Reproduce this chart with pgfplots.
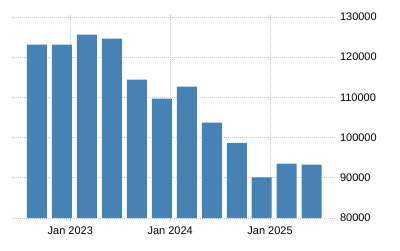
\documentclass[border=0pt]{standalone}
\usepackage{pgfplots}
\pgfplotsset{compat=1.18}
\usepackage{fontspec}
\setmainfont{Liberation Sans}
\definecolor{barblue}{HTML}{4682B4}
\definecolor{gridgray}{HTML}{C8C8C8}
\begin{document}
\begin{tikzpicture}[x=1pt,y=1pt]
\useasboundingbox (0,0) rectangle (400,250);
\begin{axis}[
  at={(12pt,32pt)}, anchor=south west,
  scale only axis, width=323pt, height=201pt,
  xmin=-7, xmax=31.8, ymin=80000, ymax=130000,
  enlargelimits=false,
  axis line style={draw=none},
  ybar, bar width=20pt,
  xtick={0,12,24}, xticklabels={Jan 2023,Jan 2024,Jan 2025},
  ytick={80000,90000,100000,110000,120000,130000},
  yticklabel pos=right,
  scaled y ticks=false,
  /pgf/number format/assume math mode=true,
  yticklabel={\pgfmathprintnumber[fixed,1000 sep={},assume math mode=true]{\tick}},
  tick label style={font=\fontsize{11}{13}\selectfont, text=black},
  yticklabel style={anchor=west, xshift=-1pt},
  xticklabel style={yshift=-3pt},
  ytick style={draw=none},
  xtick style={draw=gridgray, line width=0.8pt},
  major tick length=2.5pt,
  tick align=outside,
  grid=major,
  major grid style={draw=gridgray, line width=0.8pt, dash pattern=on 1pt off 1pt},
]
\addplot[fill=barblue, draw=none] coordinates {
(-4,123100) (-1,123100) (2,125600) (5,124600) (8,114400) (11,109700)
(14,112700) (17,103700) (20,98700) (23,90100) (26,93500) (29,93300)
};
\end{axis}
\end{tikzpicture}
\end{document}
